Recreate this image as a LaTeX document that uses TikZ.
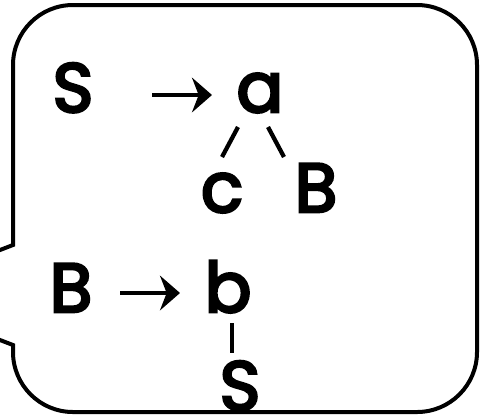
\documentclass[tikz,border=0pt]{standalone}
\usepackage{fontspec}
\newfontfamily\symfont{Poppins}[FakeBold=4]
\usetikzlibrary{arrows.meta}

\begin{document}
\begin{tikzpicture}[x=0.75pt,y=-0.75pt,>={Stealth[length=15pt,width=26pt,inset=5pt]},
		sym/.style={anchor=base,inner sep=0pt,font=\fontsize{52}{60}\symfont},
		branch/.style={line width=3.2pt},
		derive/.style={->,line width=3.6pt},
		bubble/.style={line width=3pt,line join=miter}]
		\useasboundingbox (0,0) rectangle (481,419);
		\clip (0,0) rectangle (481,419);
		
		% speech bubble, its pointer runs off to the left
		\draw[bubble] (13,245) -- (13,65)
			arc[start angle=180,end angle=270,radius=60] -- (417,5)
			arc[start angle=270,end angle=360,radius=60] -- (477,352)
			arc[start angle=0,end angle=90,radius=60] -- (73,412)
			arc[start angle=90,end angle=180,radius=60] -- (13,345)
			-- (-117,295) -- cycle;
		
		\node[sym] (S1) at (73,112)  {S};
		\node[sym] (a)  at (260,112) {a};
		\node[sym] (c)  at (222,212) {c};
		\node[sym] (B1) at (316,212) {B};
		
		\node[sym] (B2) at (71,312)  {B};
		\node[sym] (b)  at (228,312) {b};
		\node[sym] (S2) at (240,410) {S};
		
		\path[derive]
		([shift={(79,-17)}]S1.base) edge ([shift={(-48,-17)}]a.base)
		([shift={(49,-19)}]B2.base) edge ([shift={(-48,-19)}]b.base);
		
		\path[branch]
		([shift={(-22,15)}]a.base) edge ([shift={(0,-55)}]c.base)
		([shift={(8,15)}]a.base) edge ([shift={(-32,-55)}]B1.base)
		([shift={(4,11)}]b.base) edge ([shift={(-8,-57)}]S2.base);
\end{tikzpicture}
\end{document}
